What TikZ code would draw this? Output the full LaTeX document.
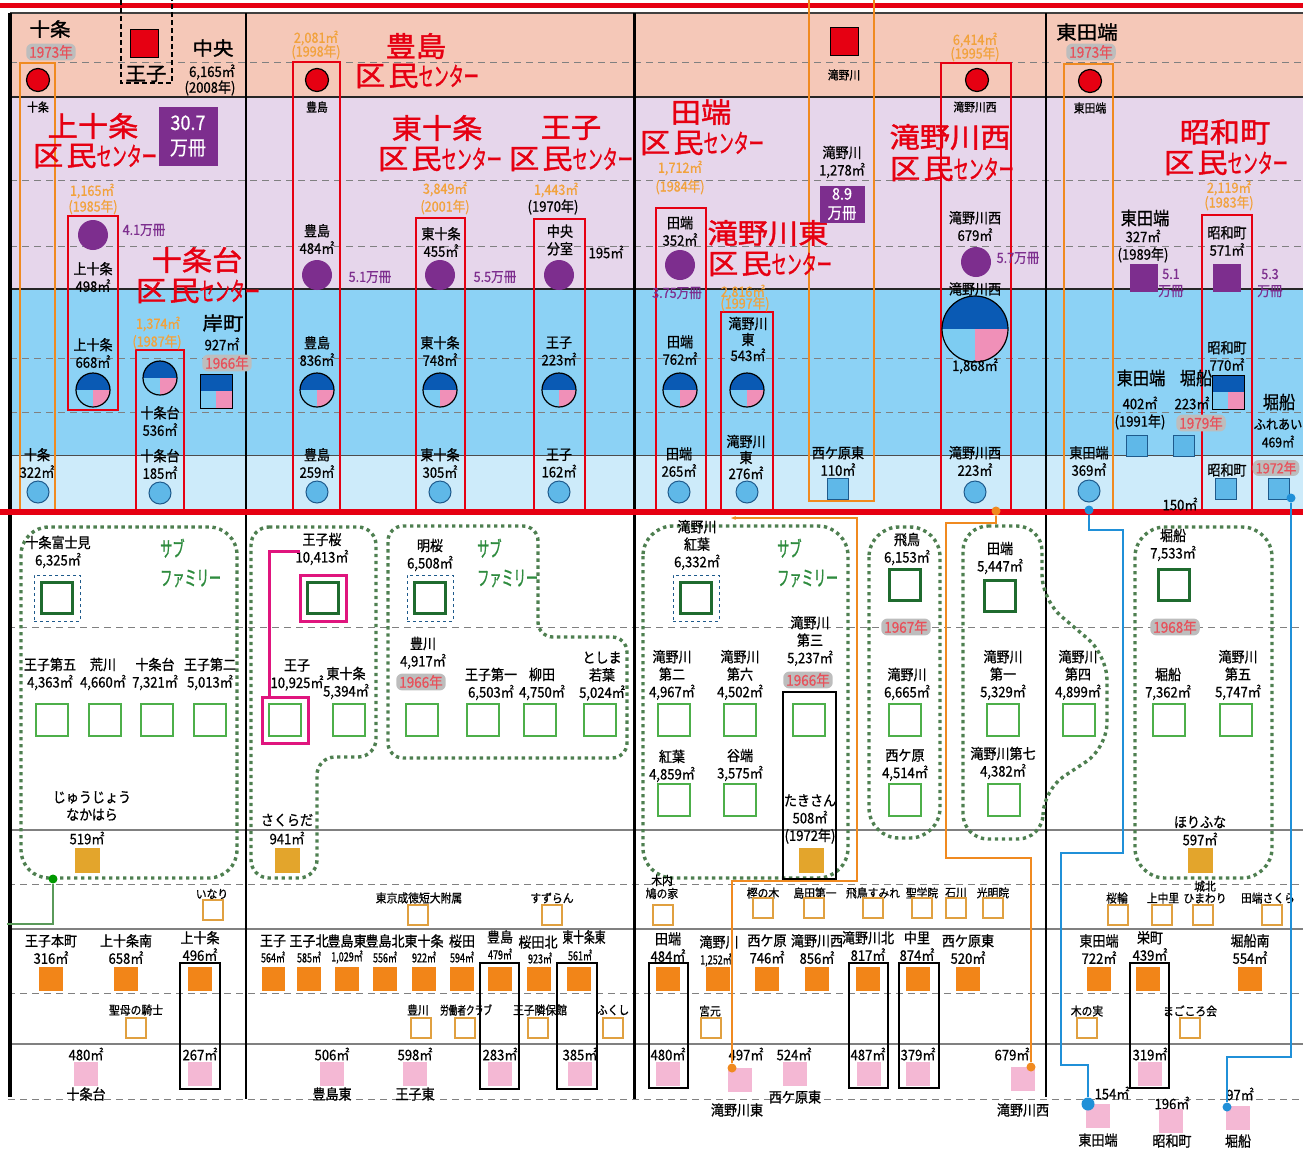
\documentclass[tikz,border=0pt]{standalone}
\usepackage{fontspec}
\setmainfont{Noto Sans CJK JP}[FakeStretch=0.9, FakeBold=0.8]
\newfontfamily\narrowfont{Noto Sans CJK JP}[FakeStretch=0.72, FakeBold=0.8]
\newfontfamily\tallfont{Noto Sans CJK JP}[FakeStretch=0.58, FakeBold=1]
\newfontfamily\widefont{Noto Sans CJK JP}[FakeStretch=1.08, FakeBold=1.4]
\usetikzlibrary{arrows.meta, positioning, calc}
\definecolor{bandTop}{HTML}{F5C8B8}
\definecolor{bandLib}{HTML}{E6D6EB}
\definecolor{bandKid}{HTML}{8CD2F5}
\definecolor{bandYth}{HTML}{CDEBFA}
\definecolor{ctrRed}{HTML}{E60012}
\definecolor{libPur}{HTML}{7D2E8E}
\definecolor{pieDark}{HTML}{0A5AB4}
\definecolor{pieLight}{HTML}{7DCCF2}
\definecolor{piePink}{HTML}{F090B8}
\definecolor{ythBlue}{HTML}{5FB8E8}
\definecolor{ythEdge}{HTML}{1E5A8C}
\definecolor{areaOrg}{HTML}{F2A23C}
\definecolor{lineOrg}{HTML}{F08A20}
\definecolor{schDark}{HTML}{1F6B2F}
\definecolor{schLight}{HTML}{4DAF4A}
\definecolor{famGreen}{HTML}{4E7F50}
\definecolor{subGreen}{HTML}{2E8B3E}
\definecolor{nurGold}{HTML}{E3A52C}
\definecolor{nurOrg}{HTML}{F28518}
\definecolor{nurPink}{HTML}{F4B8D4}
\definecolor{kidEdge}{HTML}{E0A040}
\definecolor{linkMag}{HTML}{E0157E}
\definecolor{linkBlue}{HTML}{2090D8}
\definecolor{linkGreen}{HTML}{5A9A5A}
\definecolor{badgeGray}{HTML}{BDBDBD}
\definecolor{badgeRed}{HTML}{E8505A}
\definecolor{ruleGray}{HTML}{808080}
\newcommand{\kmCenter}{{\widefont 区\hspace{3pt}民}{\tallfont\fontsize{26}{28}\selectfont センター}}
\tikzset{
  >={Stealth[length=5pt]},
  lbl/.style={inner sep=0pt, align=center, font=\fontsize{14.5}{17.5}\selectfont},
  lbls/.style={lbl, font=\fontsize{12}{14}\selectfont},
  lbln/.style={lbl, font=\narrowfont\fontsize{12.5}{14}\selectfont},
  lblm/.style={lbl, font=\fontsize{18}{20}\selectfont},
  lblw/.style={lbl, font=\widefont\fontsize{19}{21}\selectfont},
  bigred/.style={lbl, text=ctrRed, font=\widefont\fontsize{28}{30}\selectfont},
  orgT/.style={lbl, text=areaOrg, font=\fontsize{14}{15}\selectfont},
  purT/.style={lbl, text=libPur, font=\fontsize{14}{17}\selectfont},
  subfam/.style={lbl, align=left, anchor=west, text=subGreen,
    font=\tallfont\fontsize{21}{29}\selectfont},
  badge/.style={rounded corners=6pt, fill=badgeGray, text=badgeRed, inner xsep=3pt,
    inner ysep=1.5pt, font=\fontsize{15}{15}\selectfont},
  purbox/.style={fill=libPur, text=white, align=center, inner sep=0pt},
  redsq/.style={draw=black, line width=1pt, fill=ctrRed, minimum size=28pt, inner sep=0pt},
  redc/.style={circle, draw=black, line width=1.2pt, fill=ctrRed, minimum size=23pt, inner sep=0pt},
  purc/.style={circle, fill=libPur, minimum size=30pt, inner sep=0pt},
  pursq/.style={fill=libPur, minimum size=28pt, inner sep=0pt},
  lbc/.style={circle, draw=ythEdge, line width=1pt, fill=ythBlue, minimum size=22pt, inner sep=0pt},
  lbsq/.style={draw=ythEdge, line width=1pt, fill=ythBlue, minimum size=21pt, inner sep=0pt},
  dgsq/.style={draw=schDark, line width=2.4pt, fill=white, minimum size=31pt, inner sep=0pt},
  lgsq/.style={draw=schLight, line width=2.4pt, fill=white, minimum size=32pt, inner sep=0pt},
  subbox/.style={draw=ythEdge, dashed, line width=1pt, minimum size=46pt, inner sep=0pt},
  magbox/.style={draw=linkMag, line width=3pt, minimum size=46pt, inner sep=0pt},
  goldsq/.style={fill=nurGold, minimum size=25pt, inner sep=0pt},
  orsq/.style={fill=nurOrg, minimum size=24pt, inner sep=0pt},
  pksq/.style={fill=nurPink, minimum size=24pt, inner sep=0pt},
  kidsq/.style={draw=kidEdge, line width=1.8pt, fill=white, minimum size=20pt, inner sep=0pt},
  redbox/.style={draw=ctrRed, line width=2.8pt},
  orgbox/.style={draw=lineOrg, line width=2.2pt},
  blkbox/.style={draw=black, line width=1.5pt},
  famline/.style={draw=famGreen, line width=3.4pt, dash pattern=on 3.4pt off 3.6pt},
  gridS/.style={draw=ruleGray, line width=1.2pt},
  gridD/.style={draw=ruleGray, line width=1pt, dash pattern=on 7pt off 5pt},
  olink/.style={draw=lineOrg, line width=1.6pt},
  blink/.style={draw=linkBlue, line width=1.6pt},
  odot/.style={circle, fill=lineOrg, minimum size=9pt, inner sep=0pt},
  bdot/.style={circle, fill=linkBlue, minimum size=9pt, inner sep=0pt},
  pie/.pic={
    \fill[pieDark] (0,0) -- (180:17) arc[start angle=180, end angle=360, radius=17] -- cycle;
    \fill[pieLight] (0,0) -- (90:17) arc[start angle=90, end angle=180, radius=17] -- cycle;
    \fill[piePink] (0,0) -- (0:17) arc[start angle=0, end angle=90, radius=17] -- cycle;
    \draw[line width=1.2pt] (0,0) circle[radius=17];
  },
  sqpie/.pic={
    \fill[pieDark] (-16,-17) rectangle (16,0);
    \fill[pieLight] (-16,0) rectangle (0,17);
    \fill[piePink] (0,0) rectangle (16,17);
    \draw[line width=1pt] (-16,-17) rectangle (16,17);
  },
}

\begin{document}
\begin{tikzpicture}[x=1pt, y=-1pt]
  \useasboundingbox (0,0) rectangle (1303,1149);

  % ---- Bands -------------------------------------------------------------
  \fill[bandTop] (10,13) rectangle (1303,97);
  \fill[bandLib] (10,97) rectangle (1303,289);
  \fill[bandKid] (10,289) rectangle (1303,455);
  \fill[bandYth] (10,455) rectangle (1303,510);

  % ---- Rules -------------------------------------------------------------
  \draw[gridD] (10,62) -- (1303,62);
  \draw[gridD] (10,180) -- (1303,180);
  \draw[gridD] (10,246) -- (1303,246);
  \draw[gridD] (10,358) -- (1303,358);
  \draw[gridD] (10,412) -- (1303,412);
  \draw[gridD] (8,627) -- (1303,627);
  \draw[gridS] (8,830) -- (1303,830);
  \draw[gridD] (8,884) -- (1303,884);
  \draw[gridS] (8,929) -- (1303,929);
  \draw[gridD] (8,993) -- (1303,993);
  \draw[gridS] (8,1044) -- (1303,1044);
  \draw[gridD] (8,1099) -- (1303,1099);
  \draw[line width=1.2pt, black!75] (10,13) -- (1303,13);
  \draw[line width=1.6pt, black!85] (10,97) -- (1303,97);
  \draw[line width=1.6pt, black!85] (10,289) -- (1303,289);
  \draw[line width=1pt, black!70] (10,455) -- (1303,455);
  \draw[line width=4pt] (10,13) -- (10,1097);
  \draw[line width=1.2pt] (246,13) -- (246,1099);
  \draw[line width=3pt] (634,13) -- (634,1099);
  \draw[line width=1.2pt] (1046,13) -- (1046,1097);
  \draw[line width=5pt, ctrRed] (0,5) -- (1303,5);

  % ---- Column boxes ------------------------------------------------------
  \draw[orgbox] (20,63) rectangle (55,512);
  \draw[orgbox] (1064,64) rectangle (1113,512);
  \draw[orgbox] (809,0) -- (809,501) -- (874,501) -- (874,0);
  \draw[line width=1.5pt, dash pattern=on 5pt off 3pt] (121,0) -- (121,83) -- (172,83) -- (172,0);
  \draw[redbox] (293,62) rectangle (340,512);
  \draw[redbox] (68,216) rectangle (118,410);
  \draw[redbox] (136,350) rectangle (184,512);
  \draw[redbox] (416,218) rectangle (465,512);
  \draw[redbox] (534,219) rectangle (585,512);
  \draw[redbox] (656,208) rectangle (706,512);
  \draw[redbox] (721,312) rectangle (773,512);
  \draw[redbox] (941,63) rectangle (1011,512);
  \draw[redbox] (1202,215) rectangle (1252,512);
  \draw[line width=6pt, ctrRed] (0,512) -- (1303,512);

  % ---- Top band: central libraries ---------------------------------------
  \node[redsq] (ojiSq) at (144,43) {};
  \node[lblw] (ojiTtl) at (146,74) {王子};
  \node[lblw] (jujoTtl) at (50,29) {十条};
  \node[badge] (jujoYr) at (51,52) {1973年};
  \node[redc] (jujoLib) at (38,80) {};
  \node[lbls] (jujoLibL) at (38,107) {十条};
  \node[lblw] (chuoTtl) at (213,48) {中央};
  \node[lbl] (chuoArea) at (212,72) {6,165㎡};
  \node[lbl] (chuoYr) at (210,88) {(2008年)};
  \node[orgT] (toshArea) at (316,38) {2,081㎡};
  \node[orgT] (toshYr) at (316,52) {(1998年)};
  \node[redc] (toshLib) at (317,80) {};
  \node[lbls] (toshLibL) at (317,107) {豊島};
  \node[bigred] (toshCtr) at (416,46) {豊島};
  \node[bigred] (toshCtrB) at (417,76) {\kmCenter};
  \node[redsq] (tknSq) at (844,41) {};
  \node[lbls] (tknSqL) at (844,75) {滝野川};
  \node[orgT] (tknwArea) at (975,40) {6,414㎡};
  \node[orgT] (tknwYr) at (975,54) {(1995年)};
  \node[redc] (tknwLib) at (977,80) {};
  \node[lbls] (tknwLibL) at (975,107) {滝野川西};
  \node[lblw] (htbTtl) at (1087,32) {東田端};
  \node[badge] (htbYr) at (1091,52) {1973年};
  \node[redc] (htbLib) at (1090,81) {};
  \node[lbls] (htbLibL) at (1090,108) {東田端};

  % ---- Lavender band: centres and libraries ------------------------------
  \node[bigred] (kjjCtr) at (93,126) {上十条};
  \node[bigred] (kjjCtrB) at (95,156) {\kmCenter};
  \node[purbox, minimum width=59pt, minimum height=59pt,
    font=\fontsize{20}{25}\selectfont] (kjjBooks) at (188,136) {30.7\\万冊};
  \node[orgT] (kjjArea) at (92,191) {1,165㎡};
  \node[orgT] (kjjYr) at (93,207) {(1985年)};
  \node[purc] (kjjLib) at (93,235) {};
  \node[purT] (kjjLibB) at (144,230) {4.1万冊};
  \node[lbl] (kjjLibL) at (93,277) {上十条\\498㎡};
  \node[bigred] (jjdCtr) at (197,260) {十条台};
  \node[bigred] (jjdCtrB) at (198,291) {\kmCenter};

  \node[lbl] (toshLibA) at (317,239) {豊島\\484㎡};
  \node[purc] (toshBk) at (317,275) {};
  \node[purT] (toshBkN) at (370,277) {5.1万冊};

  \node[bigred] (hjjCtr) at (437,128) {東十条};
  \node[bigred] (hjjCtrB) at (440,159) {\kmCenter};
  \node[orgT] (hjjArea) at (445,189) {3,849㎡};
  \node[orgT] (hjjYr) at (445,207) {(2001年)};
  \node[lbl] (hjjLibA) at (441,242) {東十条\\455㎡};
  \node[purc] (hjjBk) at (440,275) {};
  \node[purT] (hjjBkN) at (495,277) {5.5万冊};

  \node[bigred] (ojiCtr) at (571,128) {王子};
  \node[bigred] (ojiCtrB) at (571,159) {\kmCenter};
  \node[orgT] (ojiArea) at (556,190) {1,443㎡};
  \node[lbl] (ojiYr) at (553,207) {(1970年)};
  \node[lbl] (ojiLibA) at (560,240) {中央\\分室};
  \node[lbl] (ojiLibN) at (606,252) {195㎡};
  \node[purc] (ojiBk) at (559,275) {};

  \node[bigred] (tbtCtr) at (701,112) {田端};
  \node[bigred] (tbtCtrB) at (702,143) {\kmCenter};
  \node[orgT] (tbtArea) at (680,168) {1,712㎡};
  \node[orgT] (tbtYr) at (680,187) {(1984年)};
  \node[lbl] (tbtLibA) at (680,231) {田端\\352㎡};
  \node[purc] (tbtBk) at (680,265) {};
  \node[purT] (tbtBkN) at (677,293) {3.75万冊};

  \node[bigred] (tkhCtr) at (768,233) {滝野川東};
  \node[bigred] (tkhCtrB) at (770,264) {\kmCenter};
  \node[orgT] (tkhArea) at (743,292) {2,816㎡};
  \node[orgT] (tkhYr) at (745,304) {(1997年)};

  \node[lbl] (tknLib) at (842,162) {滝野川\\1,278㎡};
  \node[purbox, minimum width=45pt, minimum height=37pt,
    font=\fontsize{16}{19}\selectfont] (tknBooks) at (842,204) {8.9\\万冊};

  \node[bigred] (tknwCtr) at (950,137) {滝野川西};
  \node[bigred] (tknwCtrB) at (952,169) {\kmCenter};
  \node[lbl] (tknwLibA) at (975,226) {滝野川西\\679㎡};
  \node[purc] (tknwBk) at (976,262) {};
  \node[purT] (tknwBkN) at (1018,258) {5.7万冊};

  \node[lblm] (htbLib2) at (1145,218) {東田端};
  \node[lbl] (htbLib2A) at (1143,246) {327㎡\\(1989年)};
  \node[pursq] (htbBk) at (1144,278) {};
  \node[purT] (htbBkN) at (1171,283) {5.1\\万冊};

  \node[bigred] (swaCtr) at (1225,132) {昭和町};
  \node[bigred] (swaCtrB) at (1226,163) {\kmCenter};
  \node[orgT] (swaArea) at (1229,188) {2,119㎡};
  \node[orgT] (swaYr) at (1229,203) {(1983年)};
  \node[lbl] (swaLibA) at (1227,241) {昭和町\\571㎡};
  \node[pursq] (swaBk) at (1227,278) {};
  \node[purT] (swaBkN) at (1270,283) {5.3\\万冊};

  % ---- Blue band: children's and youth halls -----------------------------
  \node[lbl] (kjjKid) at (93,353) {上十条\\668㎡};
  \pic at (93,390) {pie};
  \node[orgT] (jjdArea) at (158,324) {1,374㎡};
  \node[orgT] (jjdYr) at (157,342) {(1987年)};
  \pic at (160,378) {pie};
  \node[lblw] (kishiTtl) at (223,323) {岸町};
  \node[lbl] (kishiArea) at (222,344) {927㎡};
  \node[badge] (kishiYr) at (227,363) {1966年};
  \pic at (216,391) {sqpie};
  \node[lbl] (jjdKid) at (160,421) {十条台\\536㎡};
  \node[lbl] (jjdYth) at (160,464) {十条台\\185㎡};
  \node[lbc] (jjdYthC) at (160,493) {};
  \node[lbl] (jujoYth) at (37,463) {十条\\322㎡};
  \node[lbc] (jujoYthC) at (38,492) {};

  \node[lbl] (toshKid) at (317,351) {豊島\\836㎡};
  \pic at (317,390) {pie};
  \node[lbl] (toshYth) at (317,463) {豊島\\259㎡};
  \node[lbc] (toshYthC) at (317,492) {};

  \node[lbl] (hjjKid) at (440,351) {東十条\\748㎡};
  \pic at (440,390) {pie};
  \node[lbl] (hjjYth) at (440,463) {東十条\\305㎡};
  \node[lbc] (hjjYthC) at (440,492) {};

  \node[lbl] (ojiKid) at (559,351) {王子\\223㎡};
  \pic at (559,390) {pie};
  \node[lbl] (ojiYth) at (559,463) {王子\\162㎡};
  \node[lbc] (ojiYthC) at (559,492) {};

  \node[lbl] (tbtKid) at (680,350) {田端\\762㎡};
  \pic at (680,390) {pie};
  \node[lbl] (tbtYth) at (679,462) {田端\\265㎡};
  \node[lbc] (tbtYthC) at (679,492) {};

  \node[lbl, font=\fontsize{14.5}{16}\selectfont] (tkhKid) at (748,339) {滝野川\\東\\543㎡};
  \pic at (747,390) {pie};
  \node[lbl, font=\fontsize{14.5}{16}\selectfont] (tkhYth) at (746,457) {滝野川\\東\\276㎡};
  \node[lbc] (tkhYthC) at (747,492) {};

  \node[lbl] (nghYth) at (838,461) {西ケ原東\\110㎡};
  \node[lbsq] (nghYthS) at (838,489) {};

  \node[lbl] (tknwKid) at (975,289) {滝野川西};
  \pic[scale=1.94] at (975,329) {pie};
  \node[lbl] (tknwKidA) at (975,366) {1,868㎡};
  \node[lbl] (tknwYth) at (975,461) {滝野川西\\223㎡};
  \node[lbc] (tknwYthC) at (975,492) {};

  \node[lbl] (htbYth) at (1089,461) {東田端\\369㎡};
  \node[lbc] (htbYthC) at (1089,491) {};
  \node[lblm] (htbKidT) at (1141,378) {東田端};
  \node[lblm] (hfnKidT) at (1196,378) {堀船};
  \node[lbl] (htbKidA) at (1140,413) {402㎡\\(1991年)};
  \node[lbl] (hfnKidA) at (1192,403) {223㎡};
  \node[badge] (hfnKidYr) at (1201,423) {1979年};
  \node[lbsq] (htbKidS) at (1137,446) {};
  \node[lbsq] (hfnKidS) at (1184,446) {};
  \node[lbl] (htbSmall) at (1180,504) {150㎡};

  \node[lbl] (swaKid) at (1227,356) {昭和町\\770㎡};
  \pic at (1228,392) {sqpie};
  \node[lbl] (swaYth) at (1227,470) {昭和町};
  \node[lbsq] (swaYthS) at (1226,489) {};

  \node[lblm] (hfrTtl) at (1279,402) {堀船};
  \node[lbl, font=\fontsize{13.5}{18}\selectfont] (hfrName) at (1278,433) {ふれあい\\469㎡};
  \node[badge, font=\fontsize{14}{14}\selectfont] (hfrYr) at (1276,468) {1972年};
  \node[lbsq] (hfrS) at (1279,489) {};

  % ---- School families ---------------------------------------------------
  \draw[famline, rounded corners=28pt] (21,527) rectangle (237,878);
  \draw[famline, rounded corners=18pt] (251,527) -- (376,527) -- (376,757) -- (317,757)
    -- (317,878) -- (251,878) -- cycle;
  \draw[famline, rounded corners=15pt] (388,526) -- (538,526) -- (538,637) -- (627,637)
    -- (627,758) -- (388,758) -- cycle;
  \draw[famline, rounded corners=30pt] (643,526) rectangle (848,878);
  \draw[famline, rounded corners=30pt] (869,527) rectangle (940,838);
  \draw[famline, rounded corners=25pt] (963,526) -- (1042,526) -- (1042,600) -- (1107,655)
    -- (1107,748) -- (1043,790) -- (1043,839) -- (963,839) -- cycle;
  \draw[famline, rounded corners=30pt] (1135,527) rectangle (1272,878);
  \draw[blkbox] (783,692) rectangle (836,879);

  % Juujou family
  \node[lbl] (jfName) at (58,552) {十条富士見\\6,325㎡};
  \node[subbox] (jfSub) at (57,598) {};
  \node[dgsq] (jfSch) at (57,598) {};
  \node[subfam] (jfTag) at (160,563) {サブ\\ファミリー};
  \node[lbl] (oj5Name) at (50,674) {王子第五\\4,363㎡};
  \node[lgsq] (oj5Sch) at (52,720) {};
  \node[lbl] (arkName) at (103,674) {荒川\\4,660㎡};
  \node[lgsq] (arkSch) at (105,720) {};
  \node[lbl] (jjdName) at (155,674) {十条台\\7,321㎡};
  \node[lgsq] (jjdSch) at (157,720) {};
  \node[lbl] (oj2Name) at (210,674) {王子第二\\5,013㎡};
  \node[lgsq] (oj2Sch) at (210,720) {};
  \node[lbl] (jnName) at (92,806) {じゅうじょう\\なかはら};
  \node[lbl] (jnArea) at (87,838) {519㎡};
  \node[goldsq] (jnSch) at (87,860) {};

  % Oji family
  \node[lbl] (osName) at (322,549) {王子桜\\10,413㎡};
  \node[magbox] (osSub) at (323,598) {};
  \node[dgsq] (osSch) at (323,598) {};
  \node[lbl] (ojName) at (297,675) {王子\\10,925㎡};
  \node[magbox] (ojSub) at (285,720) {};
  \node[lgsq] (ojSch) at (285,720) {};
  \node[lbl] (hjName) at (346,683) {東十条\\5,394㎡};
  \node[lgsq] (hjSch) at (349,720) {};
  \node[lbl] (skName) at (287,820) {さくらだ};
  \node[lbl] (skArea) at (287,838) {941㎡};
  \node[goldsq] (skSch) at (287,860) {};

  % Meiou family
  \node[lbl] (moName) at (430,555) {明桜\\6,508㎡};
  \node[subbox] (moSub) at (430,598) {};
  \node[dgsq] (moSch) at (430,598) {};
  \node[subfam] (moTag) at (477,563) {サブ\\ファミリー};
  \node[lbl] (tgName) at (423,653) {豊川\\4,917㎡};
  \node[badge] (tgYr) at (421,682) {1966年};
  \node[lgsq] (tgSch) at (422,720) {};
  \node[lbl] (oj1Name) at (491,684) {王子第一\\6,503㎡};
  \node[lgsq] (oj1Sch) at (483,720) {};
  \node[lbl] (ygName) at (542,684) {柳田\\4,750㎡};
  \node[lgsq] (ygSch) at (540,720) {};
  \node[lbl] (twName) at (602,676) {としま\\若葉\\5,024㎡};
  \node[lgsq] (twSch) at (600,720) {};

  % Takinogawa momiji family
  \node[lbl] (tmName) at (697,545) {滝野川\\紅葉\\6,332㎡};
  \node[subbox] (tmSub) at (696,598) {};
  \node[dgsq] (tmSch) at (696,598) {};
  \node[subfam] (tmTag) at (777,563) {サブ\\ファミリー};
  \node[lbl] (t2Name) at (672,675) {滝野川\\第二\\4,967㎡};
  \node[lgsq] (t2Sch) at (674,720) {};
  \node[lbl] (t6Name) at (740,675) {滝野川\\第六\\4,502㎡};
  \node[lgsq] (t6Sch) at (740,720) {};
  \node[lbl] (t3Name) at (810,641) {滝野川\\第三\\5,237㎡};
  \node[badge] (t3Yr) at (808,680) {1966年};
  \node[lgsq] (t3Sch) at (809,720) {};
  \node[lbl] (kyName) at (672,766) {紅葉\\4,859㎡};
  \node[lgsq] (kySch) at (674,800) {};
  \node[lbl] (ybName) at (740,765) {谷端\\3,575㎡};
  \node[lgsq] (ybSch) at (740,800) {};
  \node[lbl] (tsName) at (810,819) {たきさん\\508㎡\\(1972年)};
  \node[goldsq] (tsSch) at (811,860) {};

  % Asuka family
  \node[lbl] (asName) at (907,549) {飛鳥\\6,153㎡};
  \node[dgsq] (asSch) at (905,585) {};
  \node[badge] (asYr) at (906,627) {1967年};
  \node[lbl] (tkName) at (907,684) {滝野川\\6,665㎡};
  \node[lgsq] (tkSch) at (905,720) {};
  \node[lbl] (ngName) at (905,765) {西ケ原\\4,514㎡};
  \node[lgsq] (ngSch) at (905,800) {};

  % Tabata family
  \node[lbl] (tbName) at (1000,558) {田端\\5,447㎡};
  \node[dgsq] (tbSch) at (1000,596) {};
  \node[lbl] (t1Name) at (1003,675) {滝野川\\第一\\5,329㎡};
  \node[lgsq] (t1Sch) at (1003,720) {};
  \node[lbl] (t7Name) at (1003,763) {滝野川第七\\4,382㎡};
  \node[lgsq] (t7Sch) at (1004,800) {};
  \node[lbl] (t4Name) at (1078,675) {滝野川\\第四\\4,899㎡};
  \node[lgsq] (t4Sch) at (1079,720) {};

  % Horifune family
  \node[lbl] (hfName) at (1173,545) {堀船\\7,533㎡};
  \node[dgsq] (hfSch) at (1174,585) {};
  \node[badge] (hfYr) at (1175,627) {1968年};
  \node[lbl] (hf2Name) at (1168,684) {堀船\\7,362㎡};
  \node[lgsq] (hf2Sch) at (1169,720) {};
  \node[lbl] (t5Name) at (1238,675) {滝野川\\第五\\5,747㎡};
  \node[lgsq] (t5Sch) at (1236,720) {};
  \node[lbl] (hnName) at (1200,822) {ほりふな};
  \node[lbl] (hnArea) at (1200,839) {597㎡};
  \node[goldsq] (hnSch) at (1200,860) {};

  % ---- Private nurseries, upper row --------------------------------------
  \node[lbls] (inrName) at (212,894) {いなり};
  \node[kidsq] (inrSq) at (213,910) {};
  \node[lbls] (tsdName) at (419,898) {東京成徳短大附属};
  \node[kidsq] (tsdSq) at (418,915) {};
  \node[lbls] (szrName) at (552,898) {すずらん};
  \node[kidsq] (szrSq) at (552,915) {};
  \node[lbls, font=\fontsize{12}{13}\selectfont] (hnyName) at (662,887) {木内\\鳩の家};
  \node[kidsq] (hnySq) at (663,915) {};
  \node[lbls] (kskName) at (763,893) {樫の木};
  \node[kidsq] (kskSq) at (763,908) {};
  \node[lbls] (sdName) at (815,893) {島田第一};
  \node[kidsq] (sdSq) at (814,908) {};
  \node[lbls] (asmName) at (873,893) {飛鳥すみれ};
  \node[kidsq] (asmSq) at (873,908) {};
  \node[lbls] (sgiName) at (922,893) {聖学院};
  \node[kidsq] (sgiSq) at (922,908) {};
  \node[lbls] (isiName) at (956,893) {石川};
  \node[kidsq] (isiSq) at (956,908) {};
  \node[lbls] (kmiName) at (993,893) {光明院};
  \node[kidsq] (kmiSq) at (993,908) {};
  \node[lbls] (orwName) at (1117,898) {桜輪};
  \node[kidsq] (orwSq) at (1118,915) {};
  \node[lbls] (knzName) at (1163,898) {上中里};
  \node[kidsq] (knzSq) at (1162,915) {};
  \node[lbls, font=\fontsize{12}{12}\selectfont] (jhmName) at (1205,892) {城北\\ひまわり};
  \node[kidsq] (jhmSq) at (1203,915) {};
  \node[lbls] (tskName) at (1268,898) {田端さくら};
  \node[kidsq] (tskSq) at (1272,915) {};

  % ---- Public nurseries --------------------------------------------------
  \node[lbl] (ohmName) at (51,949) {王子本町\\316㎡};
  \node[orsq] (ohmSq) at (51,979) {};
  \node[lbl] (kjmName) at (126,949) {上十条南\\658㎡};
  \node[orsq] (kjmSq) at (126,979) {};
  \node[lbl] (kjnName) at (200,946) {上十条\\496㎡};
  \node[orsq] (kjnSq) at (200,979) {};
  \node[lbl] (onName) at (273,941) {王子};
  \node[lbln] (onArea) at (273,957) {564㎡};
  \node[orsq, minimum width=23pt] (onSq) at (273,979) {};
  \node[lbl] (onkName) at (309,941) {王子北};
  \node[lbln] (onkArea) at (309,957) {585㎡};
  \node[orsq] (onkSq) at (309,979) {};
  \node[lbl] (thhName) at (347,941) {豊島東};
  \node[lbln] (thhArea) at (347,957) {1,029㎡};
  \node[orsq] (thhSq) at (347,979) {};
  \node[lbl] (thkName) at (385,941) {豊島北};
  \node[lbln] (thkArea) at (385,957) {556㎡};
  \node[orsq] (thkSq) at (385,979) {};
  \node[lbl] (hjnName) at (424,941) {東十条};
  \node[lbln] (hjnArea) at (424,957) {922㎡};
  \node[orsq] (hjnSq) at (424,979) {};
  \node[lbl] (sdaName) at (462,941) {桜田};
  \node[lbln] (sdaArea) at (462,957) {594㎡};
  \node[orsq] (sdaSq) at (462,979) {};
  \node[lbl] (tsnName) at (500,937) {豊島};
  \node[lbln] (tsnArea) at (500,954) {479㎡};
  \node[orsq] (tsnSq) at (500,979) {};
  \node[lbl] (sdkName) at (538,942) {桜田北};
  \node[lbln] (sdkArea) at (540,958) {923㎡};
  \node[orsq] (sdkSq) at (539,979) {};
  \node[lbl, font=\narrowfont\fontsize{15}{17}\selectfont] (hjhName) at (584,937) {東十条東};
  \node[lbln] (hjhArea) at (580,955) {561㎡};
  \node[orsq] (hjhSq) at (579,979) {};
  \node[lbl] (tbnName) at (668,947) {田端\\484㎡};
  \node[orsq] (tbnSq) at (668,979) {};
  \node[lbl] (tknName) at (719,942) {滝野川};
  \node[lbln] (tknArea) at (716,960) {1,252㎡};
  \node[orsq] (tknSq) at (718,979) {};
  \node[lbl] (ngnName) at (767,949) {西ケ原\\746㎡};
  \node[orsq] (ngnSq) at (767,979) {};
  \node[lbl] (twnName) at (817,949) {滝野川西\\856㎡};
  \node[orsq] (twnSq) at (817,979) {};
  \node[lbl] (tknkName) at (868,946) {滝野川北\\817㎡};
  \node[orsq] (tknkSq) at (868,979) {};
  \node[lbl] (nzName) at (917,946) {中里\\874㎡};
  \node[orsq] (nzSq) at (918,979) {};
  \node[lbl] (nghName) at (968,949) {西ケ原東\\520㎡};
  \node[orsq] (nghSq) at (968,979) {};
  \node[lbl] (htnName) at (1099,949) {東田端\\722㎡};
  \node[orsq] (htnSq) at (1099,979) {};
  \node[lbl] (skmName) at (1150,946) {栄町\\439㎡};
  \node[orsq] (skmSq) at (1148,979) {};
  \node[lbl] (hfmName) at (1250,949) {堀船南\\554㎡};
  \node[orsq] (hfmSq) at (1250,979) {};

  % ---- Private nurseries, lower row --------------------------------------
  \node[lbls] (sbkName) at (136,1010) {聖母の騎士};
  \node[kidsq] (sbkSq) at (136,1028) {};
  \node[lbls] (tgkName) at (418,1010) {豊川};
  \node[kidsq] (tgkSq) at (421,1028) {};
  \node[lbls, font=\narrowfont\fontsize{12}{14}\selectfont] (rdkName) at (466,1010) {労働者クラブ};
  \node[kidsq] (rdkSq) at (465,1028) {};
  \node[lbls] (rhkName) at (540,1010) {王子隣保館};
  \node[kidsq] (rhkSq) at (538,1028) {};
  \node[lbls] (fksName) at (613,1010) {ふくし};
  \node[kidsq] (fksSq) at (613,1028) {};
  \node[lbls] (mymName) at (710,1011) {宮元};
  \node[kidsq] (mymSq) at (711,1028) {};
  \node[lbls] (knmName) at (1087,1011) {木の実};
  \node[kidsq] (knmSq) at (1087,1028) {};
  \node[lbls] (mgkName) at (1190,1011) {まごころ会};
  \node[kidsq] (mgkSq) at (1190,1028) {};

  % ---- Youth rooms -------------------------------------------------------
  \node[lbl] (jdyArea) at (86,1054) {480㎡};
  \node[pksq] (jdySq) at (86,1074) {};
  \node[lbl] (jdyName) at (86,1094) {十条台};
  \node[lbl] (kjyArea) at (200,1054) {267㎡};
  \node[pksq] (kjySq) at (200,1074) {};
  \node[lbl] (thyArea) at (332,1054) {506㎡};
  \node[pksq] (thySq) at (332,1074) {};
  \node[lbl] (thyName) at (332,1094) {豊島東};
  \node[lbl] (ohyArea) at (415,1054) {598㎡};
  \node[pksq] (ohySq) at (415,1074) {};
  \node[lbl] (ohyName) at (415,1094) {王子東};
  \node[lbl] (tsyArea) at (500,1054) {283㎡};
  \node[pksq] (tsySq) at (500,1074) {};
  \node[lbl] (hjyArea) at (580,1054) {385㎡};
  \node[pksq] (hjySq) at (580,1074) {};
  \node[lbl] (tbyArea) at (668,1054) {480㎡};
  \node[pksq] (tbySq) at (668,1074) {};
  \node[lbl] (thkyArea) at (746,1054) {497㎡};
  \node[pksq] (thkySq) at (740,1080) {};
  \node[lbl] (thkyName) at (737,1110) {滝野川東};
  \node[lbl] (ngyArea) at (794,1054) {524㎡};
  \node[pksq] (ngySq) at (795,1074) {};
  \node[lbl] (ngyName) at (795,1097) {西ケ原東};
  \node[lbl] (tkkyArea) at (868,1054) {487㎡};
  \node[pksq] (tkkySq) at (869,1074) {};
  \node[lbl] (nzyArea) at (918,1054) {379㎡};
  \node[pksq] (nzySq) at (918,1074) {};
  \node[lbl] (twyArea) at (1012,1054) {679㎡};
  \node[pksq] (twySq) at (1023,1079) {};
  \node[lbl] (twyName) at (1023,1110) {滝野川西};
  \node[lbl] (skyArea) at (1150,1054) {319㎡};
  \node[pksq] (skySq) at (1150,1074) {};
  \node[lbl] (htyArea) at (1112,1093) {154㎡};
  \node[pksq] (htySq) at (1098,1116) {};
  \node[lbl] (htyName) at (1098,1140) {東田端};
  \node[lbl] (swyArea) at (1172,1103) {196㎡};
  \node[pksq] (swySq) at (1171,1121) {};
  \node[lbl] (swyName) at (1172,1141) {昭和町};
  \node[lbl] (hfyArea) at (1240,1094) {97㎡};
  \node[pksq] (hfySq) at (1238,1118) {};
  \node[lbl] (hfyName) at (1238,1141) {堀船};

  \draw[blkbox] (180,963) rectangle (220,1089);
  \draw[blkbox] (480,963) rectangle (519,1089);
  \draw[blkbox] (557,963) rectangle (597,1089);
  \draw[blkbox] (649,963) rectangle (688,1088);
  \draw[blkbox] (849,963) rectangle (888,1088);
  \draw[blkbox] (899,963) rectangle (939,1088);
  \draw[blkbox] (1130,963) rectangle (1169,1088);

  % ---- Links -------------------------------------------------------------
  \node[circle, fill=green!60!black, minimum size=9pt, inner sep=0pt] (jnDot) at (53,879) {};
  \coordinate (jnEnd) at (7,924);
  \draw[draw=linkGreen, line width=1.6pt] (jnDot) |- (jnEnd);

  \coordinate (osTop) at (300,551);
  \coordinate (ojTop) at (269,697);
  \draw[draw=linkMag, line width=3pt] (osTop) -| (ojTop);

  % takinogawa higashi youth room -> centre
  \node[odot] (tkhDot) at (732,1068) {};
  \coordinate (tkhMid) at (857,881);
  \coordinate (tkhEnd) at (731,518);
  \draw[olink, ->] (tkhDot) |- (tkhMid) |- (tkhEnd);

  % takinogawa nishi youth room -> centre
  \node[odot] (tnwDot) at (996,511) {};
  \coordinate (tnwA) at (946,523);
  \coordinate (tnwB) at (1031,858);
  \node[odot] (tnwEnd) at (1031,1067) {};
  \draw[olink] (tnwDot) |- (tnwA) |- (tnwB) -- (tnwEnd);

  % higashi tabata and horifune
  \node[bdot] (htbDot) at (1089,510) {};
  \coordinate (hbA) at (1123,530);
  \coordinate (hbB) at (1061,853);
  \coordinate (hbC) at (1088,1065);
  \node[bdot, minimum size=13pt] (htbEnd) at (1088,1104) {};
  \draw[blink] (htbDot) |- (hbA) |- (hbB) |- (hbC) -- (htbEnd);

  \node[bdot] (hfDot) at (1291,498) {};
  \coordinate (hfA) at (1227,1057);
  \node[bdot] (hfEnd) at (1227,1107) {};
  \draw[blink] (hfDot) |- (hfA) -- (hfEnd);

\end{tikzpicture}
\end{document}
